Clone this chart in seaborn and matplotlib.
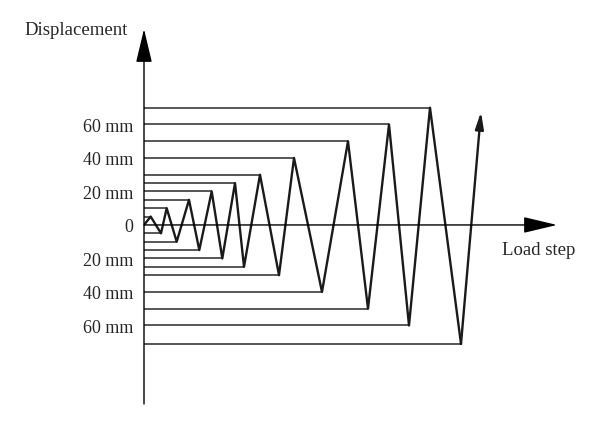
import matplotlib
matplotlib.use('Agg')
import matplotlib.pyplot as plt
import seaborn as sns
import pandas as pd

sns.set_style('white')
plt.rcParams['font.family'] = ['Liberation Serif', 'DejaVu Serif']

# loading protocol (step units, displacement in mm)
steps = [0, 6.7, 17, 22.7, 32.7, 45, 55.3, 67.7, 78.3, 91, 100, 116, 135,
         150, 178, 204, 224, 245, 265, 286, 317]
disp = [0, 5, -5, 10, -10, 15, -15, 20, -20, 25, -25, 30, -30,
        40, -40, 50, -50, 60, -60, 70, -71]
end_step = 337
end_disp = 67.5

tick_vals = [60, 40, 20, 0, -20, -40, -60]
tick_labels = ['60 mm', '40 mm', '20 mm', '0', '20 mm', '40 mm', '60 mm']

fig = plt.figure(figsize=(6, 4.27), dpi=100)
ax = fig.add_axes([144 / 600, 22 / 427, 416 / 600, 375 / 427])
ax.set_xlim(0, 416)
ax.set_ylim(-106.9, 117.0)

# guide lines from the displacement axis to each peak
for s, d in zip(steps[1:], disp[1:]):
    ax.hlines(d, 0, s, color='#3a3a3a', lw=1.2, clip_on=False)

df = pd.DataFrame({'step': steps, 'disp': disp})
sns.lineplot(data=df, x='step', y='disp', sort=False, color='#1a1a1a',
             lw=1.7, ax=ax)
ax.annotate('', xy=(end_step, end_disp), xytext=(steps[-1], disp[-1]),
            arrowprops=dict(arrowstyle='-|>,head_length=1.0,head_width=0.25',
                            color='#1a1a1a', lw=1.7, shrinkA=0, shrinkB=0))

# axis arrows
axis_arrow = dict(arrowstyle='-|>,head_length=2.1,head_width=0.5',
                  color='black', lw=1.0, shrinkA=0, shrinkB=0)
ax.annotate('', xy=(413, 0), xytext=(0, 0), arrowprops=axis_arrow)
ax.annotate('', xy=(0, 117.0), xytext=(0, -106.9), arrowprops=axis_arrow)

ax.set_yticks(tick_vals, tick_labels)
ax.set_xticks([])
ax.tick_params(axis='y', length=0, pad=8, labelsize=13)
ax.set_xlabel('')
ax.set_ylabel('')
for sp in ax.spines.values():
    sp.set_visible(False)

fig.text(128 / 600, 1 - 35 / 427, 'Displacement', ha='right', va='baseline',
         fontsize=13.5)
fig.text(502 / 600, 1 - 255 / 427, 'Load step', ha='left', va='baseline',
         fontsize=13.5)

fig.savefig('out.png', dpi=100)
